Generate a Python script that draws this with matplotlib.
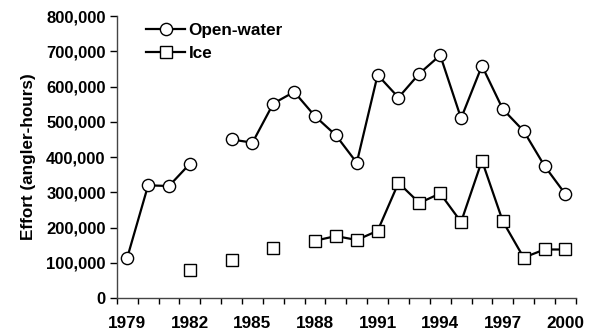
import numpy as np
import matplotlib
matplotlib.use("Agg")
import matplotlib.pyplot as plt
from matplotlib.ticker import FuncFormatter

plt.rcParams['font.family'] = ['Liberation Sans', 'DejaVu Sans']
plt.rcParams['font.weight'] = 'bold'

years = list(range(1979, 2001))
nan = np.nan
open_water = [115000, 320000, 318000, 381000, nan, 450000, 441000, 552000, 585000,
              516000, 462000, 384000, 633000, 569000, 637000, 689000, 510000,
              659000, 536000, 474000, 375000, 295000]
ice = [nan, nan, nan, 79000, nan, 108000, nan, 143000, nan, 163000, 176000,
       165000, 191000, 327000, 270000, 297000, 216000, 390000, 218000, 115000,
       138000, 138000]
# only every third year gets a label
label_years = [1979, 1982, 1985, 1988, 1991, 1994, 1997, 2000]

fig = plt.figure(figsize=(5.9, 3.35), dpi=100)
ax = fig.add_axes([0.198, 0.110, 0.778, 0.842])

x = np.arange(len(years))
ax.plot(x, open_water, color='black', lw=1.6, marker='o', ms=8.8,
        mfc='white', mec='black', mew=1.0, label='Open-water')
ax.plot(x, ice, color='black', lw=1.6, marker='s', ms=9,
        mfc='white', mec='black', mew=1.0, label='Ice')

ax.set_xlim(-0.5, len(years) - 0.5)
ax.set_ylim(0, 800000)
ax.set_yticks(np.arange(0, 800001, 100000))
ax.yaxis.set_major_formatter(FuncFormatter(lambda v, p: f'{int(v):,}'))

# tick marks sit between categories, labels at the category centres
ax.set_xticks(np.arange(-0.5, len(years), 1.0))
ax.set_xticklabels([])
ax.set_xticks([years.index(y) for y in label_years], minor=True)
ax.set_xticklabels([str(y) for y in label_years], minor=True)
ax.tick_params(axis='x', which='major', direction='out', length=4.5, width=1)
ax.tick_params(axis='x', which='minor', length=0, pad=13, labelsize=12.3)
ax.tick_params(axis='y', direction='out', length=5, width=1, pad=3, labelsize=12)

for s in ['top', 'right']:
    ax.spines[s].set_visible(False)
for s in ['left', 'bottom']:
    ax.spines[s].set_linewidth(1)
    ax.spines[s].set_color('#444444')

ax.set_ylabel('Effort (angler-hours)', fontsize=12.3, fontweight='bold', labelpad=7)

ax.legend(loc='upper left', bbox_to_anchor=(0.03, 1.03), frameon=False,
          fontsize=12.3, handlelength=2.3, handletextpad=0.2, labelspacing=0.45)

fig.savefig('out.png', dpi=100)
